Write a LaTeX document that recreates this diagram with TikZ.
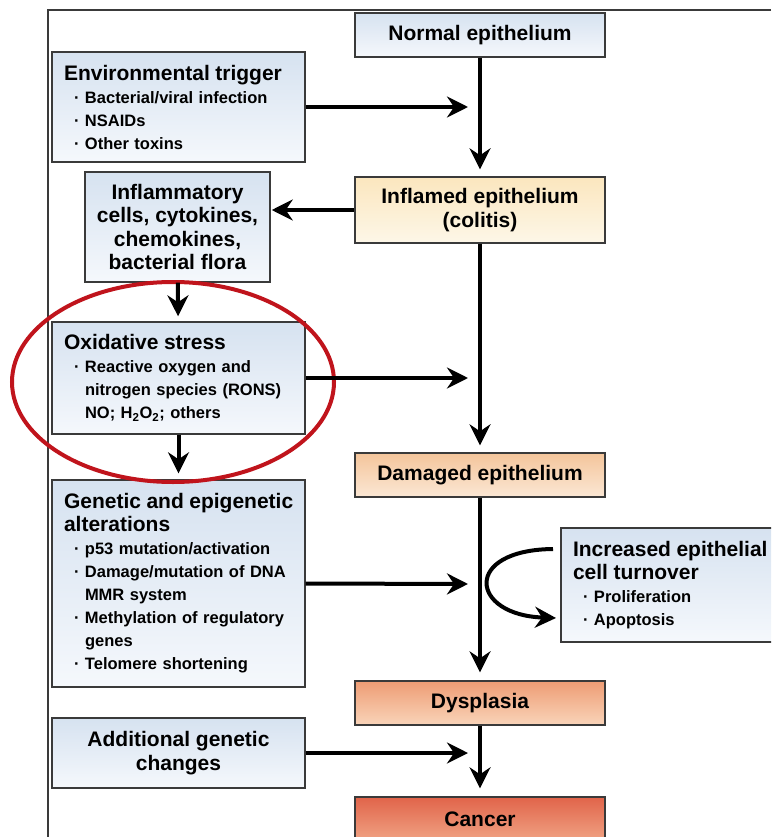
\documentclass[tikz,border=0pt]{standalone}
\usepackage{fontspec}
\setmainfont{Liberation Sans}
\usetikzlibrary{arrows.meta}

\definecolor{boxline}{HTML}{3A3A3A}
\definecolor{bluetop}{HTML}{D6E2F0}
\definecolor{bluebot}{HTML}{F5F8FC}
\definecolor{yellowtop}{HTML}{FBE6BE}
\definecolor{yellowbot}{HTML}{FDF7E8}
\definecolor{peachtop}{HTML}{F4C59B}
\definecolor{peachbot}{HTML}{FBE7D4}
\definecolor{oratop}{HTML}{EE9C74}
\definecolor{orabot}{HTML}{F9D4B9}
\definecolor{cantop}{HTML}{E1644A}
\definecolor{canbot}{HTML}{F0A384}
\definecolor{ringred}{HTML}{C0141C}

\newcommand{\hdfont}{\fontsize{21}{23.5}\selectfont}
\newcommand{\hd}[1]{\makebox[\linewidth][l]{\hdfont #1}}
\newcommand{\itm}[1]{\hspace*{10pt}\makebox[11pt][l]{·}#1}
\newcommand{\cont}[1]{\hspace*{21pt}#1}

\tikzset{
  box/.style={draw=boxline, line width=1.4pt, inner xsep=12pt, inner ysep=0pt,
    font=\bfseries\fontsize{16.5}{23}\selectfont},
  bluebox/.style={box, top color=bluetop, bottom color=bluebot},
  stage/.style={box, minimum width=250pt, minimum height=44pt, font=\bfseries\hdfont},
  arr/.style={line width=4pt, -{Stealth[length=21pt,width=21pt,inset=7pt]}},
}

\begin{document}
\begin{tikzpicture}[x=1pt,y=-1pt]
\clip (0,0) rectangle (771,837);

% frame
\draw[boxline, line width=1.3pt] (771,10) -| (48,837);

% main column
\node[stage, top color=bluetop, bottom color=bluebot] (normal) at (480,35) {Normal epithelium};
\node[stage, minimum height=66pt, align=center, top color=yellowtop, bottom color=yellowbot] (inflamed) at (480,210) {Inflamed epithelium\\(colitis)};
\node[stage, top color=peachtop, bottom color=peachbot] (damaged) at (480,475) {Damaged epithelium};
\node[stage, top color=oratop, bottom color=orabot] (dysplasia) at (480,703) {Dysplasia};
\node[stage, top color=cantop, bottom color=canbot] (cancer) at (480,819) {Cancer};

% left column
\node[bluebox, minimum width=253pt, minimum height=110pt, text width=229pt, align=left] (env) at (178.5,107)
  {\hd{Environmental trigger}\\\itm{Bacterial/viral infection}\\\itm{NSAIDs}\\\itm{Other toxins}};
\node[bluebox, minimum width=181pt, minimum height=110pt, align=center, font=\bfseries\hdfont] (cells) at (177.5,227)
  {Inflammatory\\cells, cytokines,\\chemokines,\\bacterial flora};
\node[bluebox, minimum width=253pt, minimum height=112pt, text width=229pt, align=left] (oxid) at (178.5,378)
  {\hd{Oxidative stress}\\\itm{Reactive oxygen and}\\\cont{nitrogen species (RONS)}\\\cont{NO; H\textsubscript{2}O\textsubscript{2}; others}};
\node[bluebox, minimum width=253pt, minimum height=207pt, text width=229pt, align=left] (genetic) at (178.5,583.5)
  {\hd{Genetic and epigenetic}\\\hd{alterations}\\\itm{p53 mutation/activation}\\\itm{Damage/mutation of DNA}\\\cont{MMR system}\\\itm{Methylation of regulatory}\\\cont{genes}\\\itm{Telomere shortening}};
\node[bluebox, minimum width=253pt, minimum height=70pt, align=center, font=\bfseries\hdfont] (additional) at (178.5,753)
  {Additional genetic\\changes};

% right side
\node[bluebox, minimum width=240pt, minimum height=114pt, text width=216pt, align=left] (turnover) at (681,585)
  {\hd{Increased epithelial}\\\hd{cell turnover}\\\itm{Proliferation}\\\itm{Apoptosis}};

% red ring
\draw[ringred, line width=4pt] (173,382) ellipse [x radius=161pt, y radius=100pt];

% arrow ends on the main line
\coordinate (envend) at (468,107);
\coordinate (oxidend) at (468,378);
\coordinate (genend) at (468,584);
\coordinate (addend) at (468,753);
\coordinate (loopstart) at (553,549);
\coordinate (loopend) at (556,618);

\draw[arr, shorten >=7pt] (normal) -- (inflamed);
\draw[arr, shorten >=7pt] (inflamed) -- (damaged);
\draw[arr, shorten >=8pt] (damaged) -- (dysplasia);
\draw[arr, shorten >=8pt] (dysplasia) -- (cancer);

\draw[arr] (env.east) -- (envend);
\draw[arr, shorten >=1pt] (inflamed.west) -- (inflamed.west -| cells.east);
\draw[arr, shorten >=5pt] (cells) -- (oxid);
\draw[arr] (oxid.east) -- (oxidend);
\draw[arr, shorten >=6pt] (oxid) -- (genetic);
\draw[arr] (genetic.east) -- (genend);
\draw[arr] (additional.east) -- (addend);
\draw[arr] (loopstart) .. controls (462,550) and (470,615) .. (loopend);
\end{tikzpicture}
\end{document}
